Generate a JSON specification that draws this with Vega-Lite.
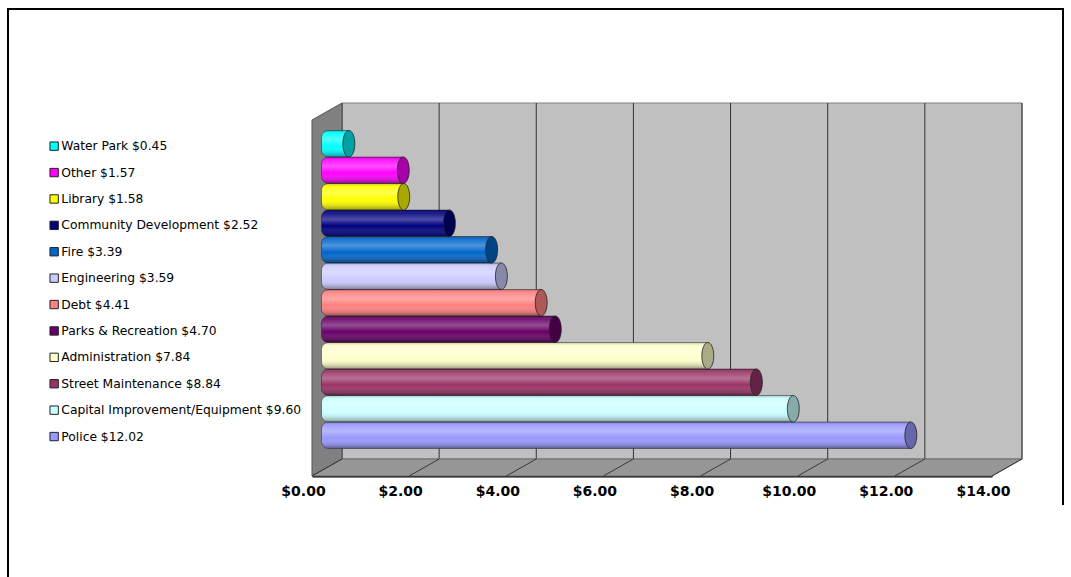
{
  "$schema": "https://vega.github.io/schema/vega-lite/v6.json",
  "width": 680,
  "height": 356,
  "autosize": {"type": "none"},
  "padding": {"left": 312, "top": 120, "right": 79, "bottom": 101},
  "background": "white",
  "config": {"view": {"stroke": null}},
  "datasets": {
    "depts": [
      {"dept": "Water Park", "amount": 0.45, "label": "Water Park $0.45"},
      {"dept": "Other", "amount": 1.57, "label": "Other $1.57"},
      {"dept": "Library", "amount": 1.58, "label": "Library $1.58"},
      {"dept": "Community Development", "amount": 2.52, "label": "Community Development $2.52"},
      {"dept": "Fire", "amount": 3.39, "label": "Fire $3.39"},
      {"dept": "Engineering", "amount": 3.59, "label": "Engineering $3.59"},
      {"dept": "Debt", "amount": 4.41, "label": "Debt $4.41"},
      {"dept": "Parks & Recreation", "amount": 4.70, "label": "Parks & Recreation $4.70"},
      {"dept": "Administration", "amount": 7.84, "label": "Administration $7.84"},
      {"dept": "Street Maintenance", "amount": 8.84, "label": "Street Maintenance $8.84"},
      {"dept": "Capital Improvement/Equipment", "amount": 9.60, "label": "Capital Improvement/Equipment $9.60"},
      {"dept": "Police", "amount": 12.02, "label": "Police $12.02"}
    ],
    "ticks": [{"v": 0}, {"v": 2}, {"v": 4}, {"v": 6}, {"v": 8}, {"v": 10}, {"v": 12}, {"v": 14}],
    "one": [{"k": 1}]
  },
  "layer": [
    {
      "data": {"name": "one"},
      "mark": {"type": "point", "shape": "M-1,0.4425L-1,-0.4488L0.6382,-0.4488L0.6382,0.3214", "size": 1658944, "filled": false, "stroke": "black", "strokeWidth": 2, "opacity": 1},
      "encoding": {
        "x": {"datum": 7, "type": "quantitative", "scale": {"domain": [0, 14], "nice": false, "zero": false},
              "axis": {"values": [0, 2, 4, 6, 8, 10, 12, 14], "format": "$.2f", "title": null, "grid": false, "ticks": false,
                       "domain": true, "domainColor": "black", "domainWidth": 2,
                       "labelFont": "DejaVu Sans", "labelFontWeight": "bold", "labelFontSize": 14, "labelColor": "black",
                       "labelPadding": 8, "labelOffset": -9, "labelFlush": false, "labelOverlap": false}}
      }
    },
    {
      "data": {"name": "one"},
      "mark": {"type": "point", "shape": "M-0.8378,-0.527L1,-0.527L1,0.4351L-0.8378,0.4351Z", "size": 547600, "filled": true, "fill": "#C0C0C0", "stroke": "#808080", "strokeWidth": 1, "opacity": 1},
      "encoding": {"x": {"datum": 7, "type": "quantitative"}}
    },
    {
      "data": {"name": "ticks"},
      "mark": {"type": "point", "shape": "M0.1538,-1L0.1538,0.8256", "size": 152100, "filled": false, "stroke": "#333333", "strokeWidth": 1, "opacity": 1},
      "encoding": {"x": {"field": "v", "type": "quantitative"}}
    },
    {
      "data": {"name": "one"},
      "mark": {"type": "point", "shape": "M0,0.9128L0,-0.9128L0.1538,-1L0.1538,0.8256Z", "size": 152100, "filled": true, "fill": "#808080", "stroke": "#555555", "strokeWidth": 1, "opacity": 1},
      "encoding": {"x": {"datum": 0, "type": "quantitative"}}
    },
    {
      "data": {"name": "one"},
      "mark": {"type": "point", "shape": "M-0.9189,0.4811L0.9189,0.4811L1,0.4351L-0.8378,0.4351Z", "size": 547600, "filled": true, "fill": "#969696", "stroke": "#6e6e6e", "strokeWidth": 1, "opacity": 1},
      "encoding": {"x": {"datum": 7, "type": "quantitative"}}
    },
    {
      "data": {"name": "ticks"},
      "mark": {"type": "point", "shape": "M0,1L0.1685,0.9045", "size": 126736, "filled": false, "stroke": "#222222", "strokeWidth": 0.8, "opacity": 1},
      "encoding": {"x": {"field": "v", "type": "quantitative"}}
    },
    {
      "data": {"name": "depts"},
      "mark": {"type": "bar", "xOffset": 15, "x2Offset": 9.5, "yOffset": -8.5, "y2Offset": -8.5,
               "cornerRadiusTopLeft": 7, "cornerRadiusBottomLeft": 7},
      "encoding": {
        "y": {"field": "label", "type": "nominal", "axis": null,
              "scale": {"domain": ["Water Park $0.45", "Other $1.57", "Library $1.58", "Community Development $2.52", "Fire $3.39", "Engineering $3.59", "Debt $4.41", "Parks & Recreation $4.70", "Administration $7.84", "Street Maintenance $8.84", "Capital Improvement/Equipment $9.60", "Police $12.02"],
                        "paddingInner": 0, "paddingOuter": 0.717}},
        "x": {"field": "amount", "type": "quantitative"},
        "x2": {"datum": 0},
        "color": {"field": "label", "type": "nominal",
                  "scale": {"domain": ["Water Park $0.45", "Other $1.57", "Library $1.58", "Community Development $2.52", "Fire $3.39", "Engineering $3.59", "Debt $4.41", "Parks & Recreation $4.70", "Administration $7.84", "Street Maintenance $8.84", "Capital Improvement/Equipment $9.60", "Police $12.02"],
                            "range": ["#00FFFF", "#FF00FF", "#FFFF00", "#000080", "#0066CC", "#CCCCFF", "#FF8080", "#660066", "#FFFFCC", "#993366", "#CCFFFF", "#9999FF"]},
                  "legend": {"orient": "none", "legendX": -264, "legendY": 20, "title": null, "padding": 0,
                             "symbolType": "square", "symbolSize": 70, "symbolStrokeColor": "#222222", "symbolStrokeWidth": 1, "symbolOpacity": 1,
                             "labelFont": "DejaVu Sans", "labelFontSize": 12.3, "labelColor": "black", "labelLimit": 400,
                             "rowPadding": 12.4, "labelOffset": 1}}
      }
    },
    {
      "data": {"name": "depts"},
      "mark": {"type": "bar", "xOffset": 15, "x2Offset": 9.5, "yOffset": -8.5, "y2Offset": -8.5,
               "cornerRadiusTopLeft": 7, "cornerRadiusBottomLeft": 7,
               "stroke": "#222222", "strokeWidth": 0.7, "strokeOpacity": 0.7,
               "fill": {"gradient": "linear", "x1": 0, "y1": 0, "x2": 0, "y2": 1,
                        "stops": [{"offset": 0, "color": "rgba(0,0,0,0.25)"}, {"offset": 0.12, "color": "rgba(255,255,255,0.1)"}, {"offset": 0.35, "color": "rgba(255,255,255,0.3)"}, {"offset": 0.6, "color": "rgba(255,255,255,0)"}, {"offset": 1, "color": "rgba(0,0,0,0.4)"}]}},
      "encoding": {
        "y": {"field": "label", "type": "nominal"},
        "x": {"field": "amount", "type": "quantitative"},
        "x2": {"datum": 0}
      }
    },
    {
      "data": {"name": "depts"},
      "mark": {"type": "point", "xOffset": 15, "yOffset": -8.5,
               "shape": "M0,-1C0.2485,-1 0.45,-0.5523 0.45,0C0.45,0.5523 0.2485,1 0,1C-0.2485,1 -0.45,0.5523 -0.45,0C-0.45,-0.5523 -0.2485,-1 0,-1Z",
               "size": 702, "filled": true, "stroke": "#222222", "strokeWidth": 0.8, "opacity": 1},
      "encoding": {
        "y": {"field": "label", "type": "nominal"},
        "x": {"field": "amount", "type": "quantitative"},
        "fill": {"field": "label", "type": "nominal", "legend": null,
                 "scale": {"domain": ["Water Park $0.45", "Other $1.57", "Library $1.58", "Community Development $2.52", "Fire $3.39", "Engineering $3.59", "Debt $4.41", "Parks & Recreation $4.70", "Administration $7.84", "Street Maintenance $8.84", "Capital Improvement/Equipment $9.60", "Police $12.02"],
                           "range": ["#00A3A3", "#A800A8", "#A8A800", "#000050", "#004488", "#8888AA", "#B05858", "#440044", "#AAAA88", "#662244", "#88AAAA", "#6666AA"]}}
      }
    }
  ]
}
